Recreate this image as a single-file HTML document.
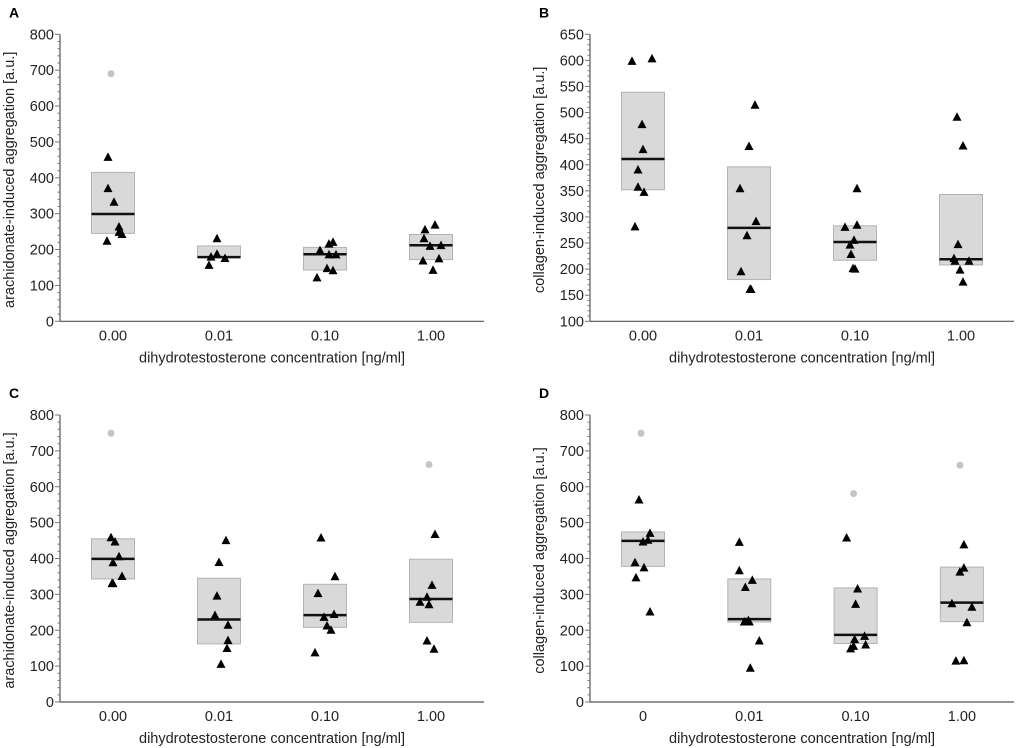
<!DOCTYPE html>
<html><head><meta charset="utf-8"><style>
body{margin:0;background:#fff;}
svg{display:block;font-family:"Liberation Sans",Arial,sans-serif;}
</style></head><body>
<svg id="fig" width="1020" height="748" viewBox="0 0 1020 748"></svg>
<script>
const categoriesABC = ["0.00","0.01","0.10","1.00"];
const categoriesD = ["0","0.01","0.10","1.00"];
// Panel A
const aValues = [[457,370,332,263,248,242,223],[230,187,179,175,156],[197,215,220,185,185,121,147,141],[255,268,230,209,211,168,174,142]];
const aJitter = [[-5,-5,1,6,6,9,-6],[-2,-2,-8,6,-10],[-5,4,8,4,11,-8,2,8],[-6,4,-7,-1,10,-8,8,2]];
const aOutliers = [[690],[],[],[]];
const aBoxLow = [245,178,143,172];
const aBoxHigh = [415,210,206,242];
const aMedian = [299,179,187,212];
// Panel B
const bValues = [[598,603,477,429,390,357,347,281],[514,435,354,291,264,195,161,161],[354,284,280,255,246,228,201,200],[491,436,247,220,215,215,198,175]];
const bJitter = [[-11,9,-1,0,-5,-5,1,-8],[6,0,-9,7,-2,-8,1,2],[2,2,-10,-1,-5,-4,-2,0],[-4,2,-3,-7,-6,8,-1,2]];
const bOutliers = [[],[],[],[]];
const bBoxLow = [352,180,217,208];
const bBoxHigh = [539,396,283,343];
const bMedian = [411,279,252,219];
// Panel C
const cValues = [[458,446,405,388,350,330,330],[450,389,295,241,214,171,149,105],[457,349,302,236,244,212,200,137],[467,325,292,278,271,170,147]];
const cJitter = [[-2,2,6,0,9,-1,0],[7,0,-2,-4,9,9,8,2],[-4,10,-7,-1,9,2,6,-10],[4,1,-4,-11,-2,-4,3]];
const cOutliers = [[749],[],[],[662]];
const cBoxLow = [343,162,208,222];
const cBoxHigh = [455,345,328,398];
const cMedian = [399,230,242,287];
// Panel D
const dValues = [[563,470,446,451,388,374,346,251],[445,366,339,319,227,223,223,170,94],[457,315,272,183,174,155,159,148],[438,373,362,274,264,221,114,115]];
const dJitter = [[-4,7,0,5,-8,1,-7,7],[-10,-10,3,-4,-1,-5,0,10,1],[-9,2,0,9,-1,-2,10,-5],[2,2,-2,-10,10,5,-6,2]];
const dOutliers = [[749],[],[581],[660]];
const dBoxLow = [378,223,163,224];
const dBoxHigh = [474,343,318,376];
const dMedian = [449,231,187,277];

const NS="http://www.w3.org/2000/svg";
const svg=document.getElementById('fig');
function mk(tag,attrs,parent){const e=document.createElementNS(NS,tag);for(const k in attrs)e.setAttribute(k,attrs[k]);(parent||svg).appendChild(e);return e;}

function panel(p){
  const g=mk('g',{});
  
  
  const y=v=>p.y0-(v-p.vmin)/(p.vmax-p.vmin)*(p.y0-p.y1);
  const x=i=>p.cx0+i*p.step;
  const lt=mk('text',{x:p.ax-51,y:p.y1-17,'font-size':14,'font-weight':'bold',fill:'#000'},g);
  lt.textContent=p.letter;
  
  
  for(let i=0;i<p.cats.length;i++){
    const bw=43;
    const r=mk('rect',{x:x(i)-bw/2,y:y(p.hi[i]),width:bw,height:y(p.lo[i])-y(p.hi[i]),fill:'#d9d9d9',stroke:'#b3b3b3','stroke-width':1},g);
    
    
    const m=mk('line',{x1:x(i)-bw/2,x2:x(i)+bw/2,y1:y(p.med[i]),y2:y(p.med[i]),stroke:'#111','stroke-width':2.5},g);
    
    
  }
  const ya=mk('line',{x1:p.ax,x2:p.ax,y1:p.y1,y2:p.y0,stroke:'#555','stroke-width':1.2},g);
  
  
  const xa=mk('line',{x1:p.ax,x2:p.axEnd,y1:p.y0,y2:p.y0,stroke:'#555','stroke-width':1.2},g);
  
  
  for(let v=p.vmin;v<=p.vmax+0.01;v+=p.minor){
    const isMaj=Math.abs(((v-p.vmin)/p.major)-Math.round((v-p.vmin)/p.major))<1e-6;
    mk('line',{x1:p.ax-(isMaj?5:2.5),x2:p.ax,y1:y(v),y2:y(v),stroke:'#777','stroke-width':1},g);
    if(isMaj){
      const t=mk('text',{x:p.ax-6,y:y(v)+5,'font-size':14.5,'text-anchor':'end',fill:'#222'},g);
      t.textContent=v;
      
      
    }
  }
  for(let i=0;i<p.cats.length;i++){
    const t=mk('text',{x:x(i),y:p.y0+19,'font-size':14.5,'text-anchor':'middle',fill:'#222'},g);
    t.textContent=p.cats[i];
    
    
  }
  const xt=mk('text',{x:(p.ax+p.axEnd)/2,y:p.y0+41,'font-size':14.5,'text-anchor':'middle',fill:'#222'},g);
  xt.textContent='dihydrotestosterone concentration [ng/ml]';
  
  
  const cy=(p.y0+p.y1)/2+2;
  const yt=mk('text',{x:p.ax-46,y:cy,'font-size':14.5,'text-anchor':'middle',fill:'#222',transform:`rotate(-90 ${p.ax-46} ${cy})`},g);
  yt.textContent=p.ytitle;
  
  
  for(let i=0;i<p.cats.length;i++){
    p.vals[i].forEach((v,j)=>{
      const px=x(i)+p.jit[i][j], py=y(v);
      const tr=mk('polygon',{points:`${px},${py-5} ${px-4.5},${py+3.5} ${px+4.5},${py+3.5}`,fill:'#000'},g);
      
      
    });
    p.out[i].forEach(v=>{
      const c=mk('circle',{cx:x(i)-2,cy:y(v),r:3.5,fill:'#c4c4c4'},g);
      
      
    });
  }
}
panel({letter:'A',cats:categoriesABC,vals:aValues,jit:aJitter,out:aOutliers,lo:aBoxLow,hi:aBoxHigh,med:aMedian,
  vmin:0,vmax:800,major:100,minor:20,ax:60,axEnd:484,y0:321.3,y1:34.3,cx0:113,step:106,ytitle:'arachidonate-induced aggregation [a.u.]'});
panel({letter:'B',cats:categoriesABC,vals:bValues,jit:bJitter,out:bOutliers,lo:bBoxLow,hi:bBoxHigh,med:bMedian,
  vmin:100,vmax:650,major:50,minor:10,ax:590,axEnd:1014,y0:321.3,y1:34.3,cx0:643,step:106,ytitle:'collagen-induced aggregation [a.u.]'});
panel({letter:'C',cats:categoriesABC,vals:cValues,jit:cJitter,out:cOutliers,lo:cBoxLow,hi:cBoxHigh,med:cMedian,
  vmin:0,vmax:800,major:100,minor:20,ax:60,axEnd:484,y0:702,y1:415,cx0:113,step:106,ytitle:'arachidonate-induced aggregation [a.u.]'});
panel({letter:'D',cats:categoriesD,vals:dValues,jit:dJitter,out:dOutliers,lo:dBoxLow,hi:dBoxHigh,med:dMedian,
  vmin:0,vmax:800,major:100,minor:20,ax:590,axEnd:1014,y0:702,y1:415,cx0:643,step:106.3,ytitle:'collagen-induced aggregation [a.u.]'});
</script>
</body></html>
